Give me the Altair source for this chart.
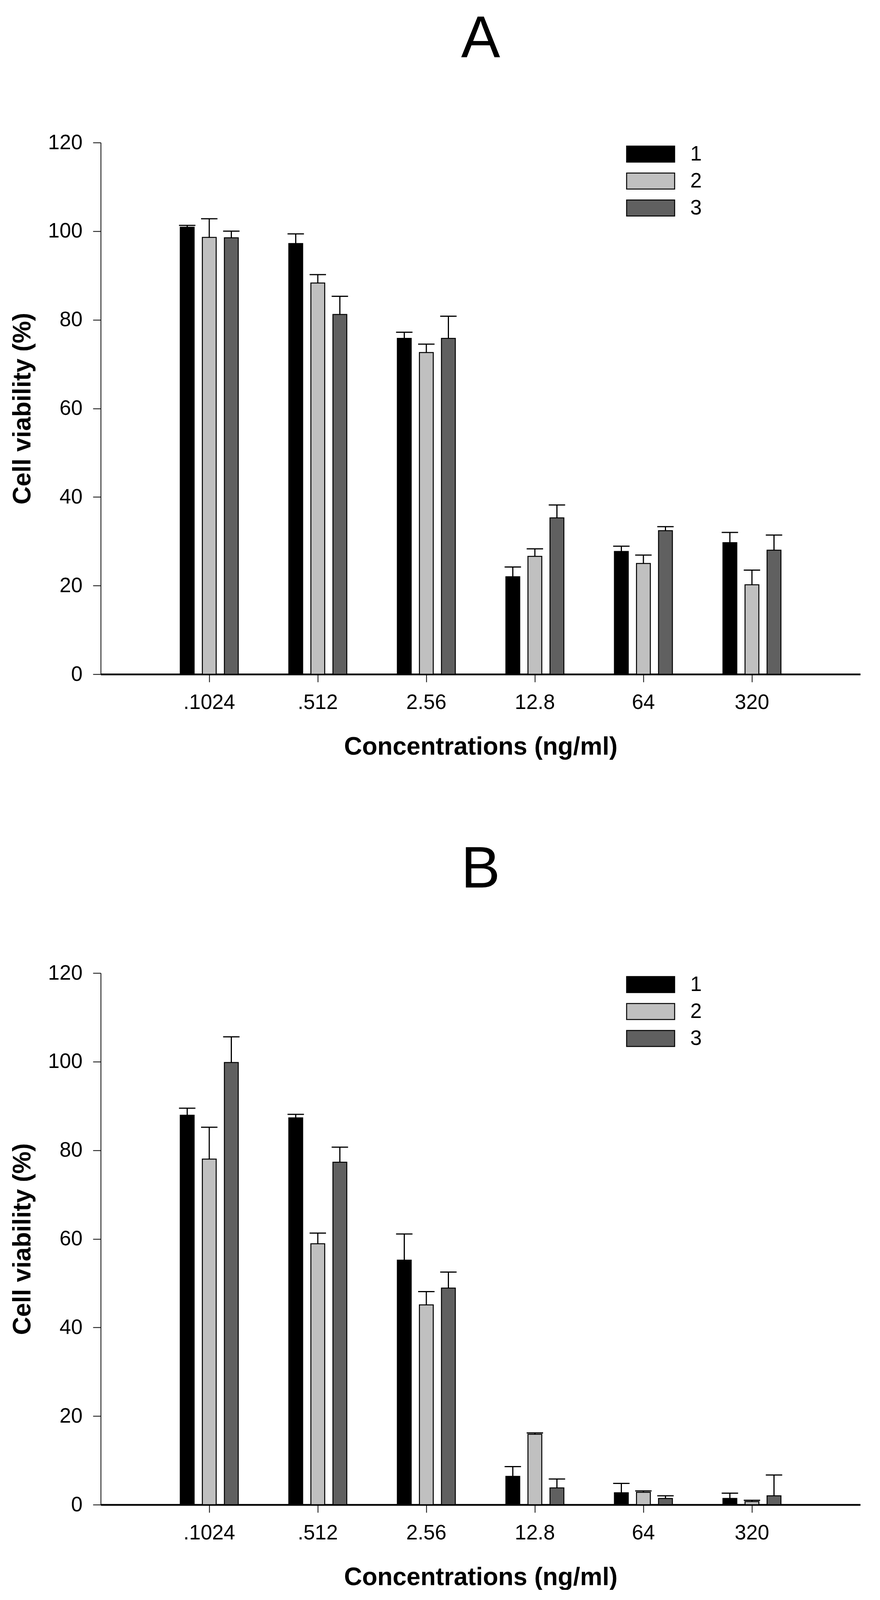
import altair as alt
import pandas as pd

CONCENTRATIONS = [".1024", ".512", "2.56", "12.8", "64", "320"]
GROUPS = ["1", "2", "3"]
COLORS = ["#000000", "#c0c0c0", "#606060"]

# panel A: mean viability and upper error per group
A_MEAN_1 = [100.9, 97.2, 75.8, 22.0, 27.7, 29.7]
A_MEAN_2 = [98.6, 88.3, 72.6, 26.6, 25.0, 20.2]
A_MEAN_3 = [98.5, 81.2, 75.8, 35.3, 32.4, 28.0]
A_ERR_1 = [0.4, 2.2, 1.4, 2.2, 1.2, 2.3]
A_ERR_2 = [4.2, 1.9, 1.9, 1.7, 1.9, 3.3]
A_ERR_3 = [1.5, 4.1, 5.0, 2.9, 0.9, 3.4]

# panel B
B_MEAN_1 = [87.9, 87.3, 55.2, 6.4, 2.7, 1.4]
B_MEAN_2 = [78.0, 58.9, 45.1, 15.9, 2.8, 0.7]
B_MEAN_3 = [99.8, 77.3, 48.9, 3.8, 1.4, 2.0]
B_ERR_1 = [1.6, 0.8, 5.9, 2.2, 2.1, 1.2]
B_ERR_2 = [7.2, 2.4, 3.0, 0.3, 0.3, 0.3]
B_ERR_3 = [5.8, 3.4, 3.6, 2.0, 0.6, 4.7]

Y_TICKS = [0, 20, 40, 60, 80, 100, 120]

FONT = "Liberation Sans"
SWATCH = "M-3,-1H3V1H-3Z"


def panel(letter, means, errs):
    rows = []
    for g, m_list, e_list in zip(GROUPS, means, errs):
        for c, m, e in zip(CONCENTRATIONS, m_list, e_list):
            rows.append({"conc": c, "group": g, "mean": m, "upper": m + e})
    df = pd.DataFrame(rows)

    x = alt.X(
        "conc:N",
        sort=CONCENTRATIONS,
        scale=alt.Scale(paddingInner=0.2626, paddingOuter=0.6313),
        title="Concentrations (ng/ml)",
        axis=alt.Axis(
            labelAngle=0,
            labelFontSize=53,
            labelFont=FONT,
            labelColor="black",
            labelPadding=26,
            tickSize=20,
            tickWidth=2,
            tickColor="black",
            domainColor="black",
            domainWidth=4.5,
            titleFont=FONT,
            titleFontSize=64,
            titleFontWeight="bold",
            titleColor="black",
            titlePadding=55,
        ),
    )
    xoff = alt.XOffset(
        "group:N", sort=GROUPS, scale=alt.Scale(paddingInner=0.372, paddingOuter=0.5)
    )
    y_axis = alt.Axis(
        values=Y_TICKS,
        grid=False,
        labelFontSize=53,
        labelFont=FONT,
        labelColor="black",
        labelPadding=27,
        tickSize=20,
        tickWidth=2,
        tickColor="black",
        domainColor="black",
        domainWidth=2,
        titleFont=FONT,
        titleFontSize=64,
        titleFontWeight="bold",
        titleColor="black",
        titlePadding=32,
    )
    y_scale = alt.Scale(domain=[0, 120])

    bars = (
        alt.Chart(df)
        .mark_bar(stroke="black", strokeWidth=2.5, opacity=1)
        .encode(
            x=x,
            xOffset=xoff,
            y=alt.Y("mean:Q", scale=y_scale, axis=y_axis, title="Cell viability (%)"),
            color=alt.Color(
                "group:N",
                scale=alt.Scale(domain=GROUPS, range=COLORS),
                legend=alt.Legend(
                    title=None,
                    orient="none",
                    legendX=1382,
                    legendY=3,
                    padding=0,
                    symbolType=SWATCH,
                    symbolSize=1681,
                    symbolStrokeColor="black",
                    symbolStrokeWidth=2.5,
                    symbolOpacity=1,
                    labelFont=FONT,
                    labelFontSize=53,
                    labelColor="black",
                    labelOffset=75,
                    rowPadding=15,
                ),
            ),
        )
    )
    stems = (
        alt.Chart(df)
        .mark_rule(color="black", strokeWidth=3)
        .encode(x=x, xOffset=xoff, y=alt.Y("mean:Q", scale=y_scale), y2="upper:Q")
    )
    caps = (
        alt.Chart(df)
        .mark_tick(color="black", thickness=3, size=42, opacity=1)
        .encode(x=x, xOffset=xoff, y=alt.Y("upper:Q", scale=y_scale))
    )
    return alt.layer(bars, stems, caps).properties(
        width=1946,
        height=1361,
        title=alt.TitleParams(
            letter,
            font=FONT,
            fontSize=150,
            fontWeight="normal",
            color="black",
            anchor="middle",
            frame="group",
            offset=162,
        ),
    )


chart_a = panel("A", [A_MEAN_1, A_MEAN_2, A_MEAN_3], [A_ERR_1, A_ERR_2, A_ERR_3])
chart_b = panel("B", [B_MEAN_1, B_MEAN_2, B_MEAN_3], [B_ERR_1, B_ERR_2, B_ERR_3])

chart = (
    alt.vconcat(chart_a, chart_b, spacing=208)
    .resolve_scale(color="independent")
    .configure(padding={"top": 18, "left": 18, "right": 0, "bottom": 0}, background="white")
    .configure_view(stroke=None)
)

chart.save("out.html", embed_options={"renderer": "svg", "actions": False})
